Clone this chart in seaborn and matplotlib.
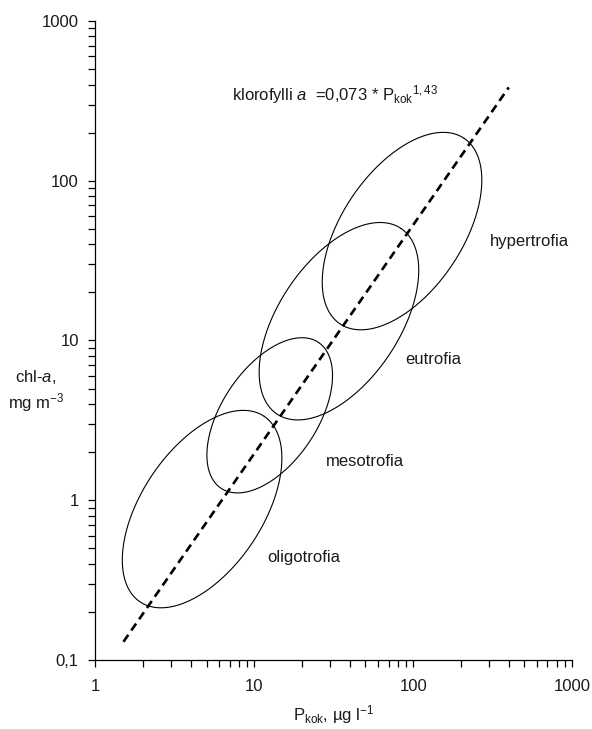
import numpy as np
import pandas as pd
import matplotlib
matplotlib.use("Agg")
import matplotlib.pyplot as plt
from matplotlib.ticker import LogLocator, NullFormatter
import seaborn as sns

# trophic classes: ellipse centres (P_kok, chl-a), half-axes in log10 decades, tilt
TROPHY     = ["oligotrofia", "mesotrofia", "eutrofia", "hypertrofia"]
CENTRE_P   = [4.69, 12.5, 34.1, 85.1]
CENTRE_CHL = [0.88, 3.4, 13.2, 48.4]
HALF_MAJOR = [0.70, 0.55, 0.70, 0.70]
HALF_MINOR = [0.38, 0.30, 0.38, 0.38]
TILT_DEG   = [56, 56, 56, 56]

# where the class names sit (left edge, centre line)
LABEL_P   = [12.0, 28.3, 88.9, 305]
LABEL_CHL = [0.44, 1.76, 7.55, 41.4]

# regression line chl-a = 0,073 * P_kok^1,43 (end points)
LINE_P   = [1.5, 400]
LINE_CHL = [0.13, 384]

XTICKS = [1, 10, 100, 1000]
XTICKLABELS = ["1", "10", "100", "1000"]
YTICKS = [0.1, 1, 10, 100, 1000]
YTICKLABELS = ["0,1", "1", "10", "100", "1000"]

sns.set_theme(style="ticks")
plt.rcParams["font.family"] = ["Liberation Sans", "DejaVu Sans"]
plt.rcParams.update({
    "mathtext.fontset": "custom", "mathtext.rm": "Liberation Sans",
    "mathtext.it": "Liberation Sans:italic", "mathtext.default": "rm",
    "axes.spines.top": False, "axes.spines.right": False,
})
FS = 12
TXT = "#1a1a1a"

fig = plt.figure(figsize=(5.92, 7.29), dpi=100)
ax = fig.add_axes([0.1613, 0.0947, 0.8049, 0.8765])
ax.set_xscale("log"); ax.set_yscale("log")

line = pd.DataFrame({"P": LINE_P, "chl": LINE_CHL})
sns.lineplot(data=line, x="P", y="chl", color="black", lw=1.9, ax=ax,
             dashes=False, estimator=None)
ax.lines[-1].set_dashes((3.2, 2.0))

t = np.linspace(0, 2 * np.pi, 300)
for cx, cy, a, b, th in zip(CENTRE_P, CENTRE_CHL, HALF_MAJOR, HALF_MINOR, TILT_DEG):
    r = np.deg2rad(th)
    u, v = a * np.cos(t), b * np.sin(t)
    lx = np.log10(cx) + u * np.cos(r) - v * np.sin(r)
    ly = np.log10(cy) + u * np.sin(r) + v * np.cos(r)
    ax.plot(10 ** lx, 10 ** ly, color="black", lw=0.8)

for name, px, py in zip(TROPHY, LABEL_P, LABEL_CHL):
    ax.text(px, py, name, ha="left", va="center", fontsize=FS, color=TXT)

ax.text(7.24, 320, r"klorofylli $\it{a}$  =0,073 * P$_{\rm kok}$$^{1,43}$",
        ha="left", va="baseline", fontsize=FS, color=TXT)

ax.set_xlim(1, 1000); ax.set_ylim(0.1, 1000)
ax.set_xticks(XTICKS, labels=XTICKLABELS)
ax.set_yticks(YTICKS, labels=YTICKLABELS)
for axis in (ax.xaxis, ax.yaxis):
    axis.set_minor_locator(LogLocator(base=10, subs=np.arange(2, 10), numticks=20))
    axis.set_minor_formatter(NullFormatter())
ax.tick_params(which="both", direction="out", length=5, width=0.9, color="black",
               labelsize=FS, labelcolor=TXT)
ax.tick_params(axis="x", which="both", pad=9)
ax.tick_params(axis="y", which="both", pad=7)
for s in ("left", "bottom"):
    ax.spines[s].set_color("black"); ax.spines[s].set_linewidth(0.9)

ax.set_xlabel(r"P$_{\rm kok}$, µg l$^{-1}$", fontsize=FS, color=TXT, labelpad=6)
ax.set_ylabel("")
fig.text(36 / 592, 1 - 377 / 729, r"chl-$\it{a}$,", ha="center", va="center",
         fontsize=FS, color=TXT)
fig.text(36 / 592, 1 - 403 / 729, r"mg m$^{-3}$", ha="center", va="center",
         fontsize=FS, color=TXT)

fig.savefig("out.png", dpi=100)
